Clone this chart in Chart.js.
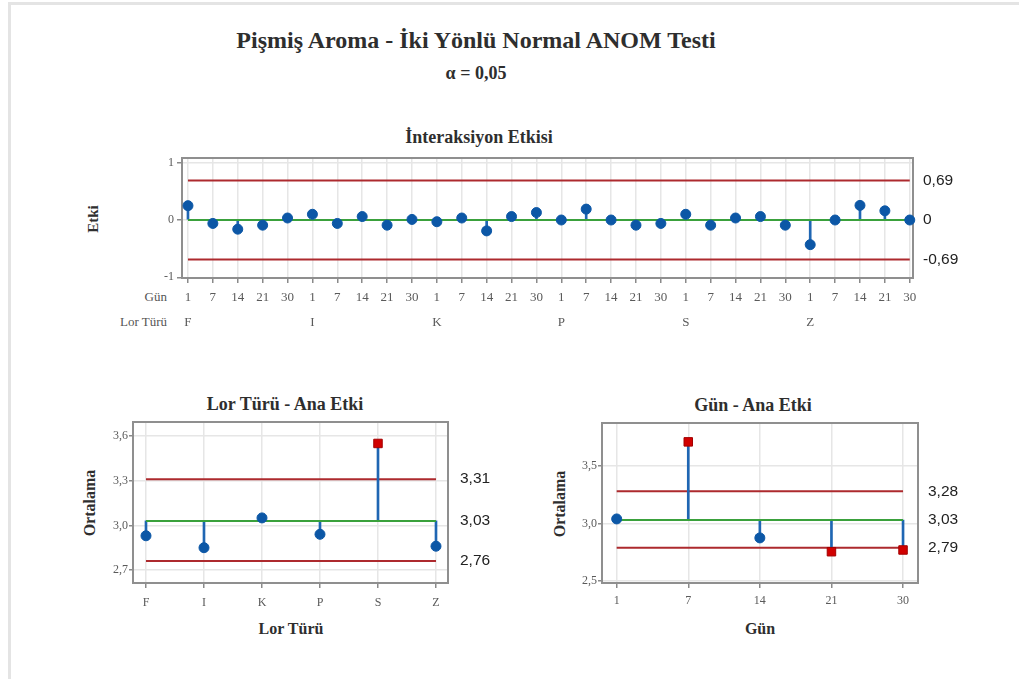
<!DOCTYPE html>
<html lang="tr">
<head>
<meta charset="utf-8">
<title>Pişmiş Aroma - İki Yönlü Normal ANOM Testi</title>
<script src="https://cdn.jsdelivr.net/npm/chart.js@4/dist/chart.umd.min.js"></script>
<style>
  html, body { margin: 0; padding: 0; background: #fff; }
  #page { position: relative; width: 1019px; height: 679px; overflow: hidden; background: #fff; }
  #frame { position: absolute; left: 8px; top: 2px; width: 1100px; height: 800px;
           border-top: 3px solid #e4e4e4; border-left: 3px solid #e4e4e4; }
  canvas { position: absolute; left: 0; top: 0; }
  .t { position: absolute; white-space: nowrap; color: #2e2e2e; font-weight: bold;
       font-family: "Liberation Serif", "Times New Roman", serif; transform: translate(-50%, -50%); }
  .rot { transform: translate(-50%, -50%) rotate(-90deg); }
  .row { position: absolute; white-space: nowrap; color: #555; font-size: 13px;
         font-family: "Liberation Serif", "Times New Roman", serif; transform: translate(-100%, -50%); }
</style>
</head>
<body>
<div id="page">
  <div id="frame"></div>

  <div class="t" style="left:476px; top:40px; font-size:24px;">Pişmiş Aroma - İki Yönlü Normal ANOM Testi</div>
  <div class="t" style="left:476px; top:73px; font-size:18px;">α = 0,05</div>

  <div class="t" style="left:479px; top:137px; font-size:18px;">İnteraksiyon Etkisi</div>
  <div class="t rot" style="left:93px; top:219px; font-size:15px;">Etki</div>
  <div class="row" style="left:167px; top:297px;">Gün</div>
  <div class="row" style="left:167px; top:322px;">Lor Türü</div>

  <div class="t" style="left:285px; top:404px; font-size:18px;">Lor Türü - Ana Etki</div>
  <div class="t rot" style="left:90px; top:503px; font-size:16px;">Ortalama</div>
  <div class="t" style="left:291px; top:629px; font-size:16px;">Lor Türü</div>

  <div class="t" style="left:753px; top:405px; font-size:18px;">Gün - Ana Etki</div>
  <div class="t rot" style="left:560px; top:504px; font-size:16px;">Ortalama</div>
  <div class="t" style="left:760px; top:629px; font-size:16px;">Gün</div>

  <canvas id="cEtki" width="1019" height="679"></canvas>
  <canvas id="cLor" width="1019" height="679"></canvas>
  <canvas id="cGun" width="1019" height="679"></canvas>
</div>

<script>
// Kategoriler
const lorTurleri = ['F', 'I', 'K', 'P', 'S', 'Z'];
const gunler = ['1', '7', '14', '21', '30'];

// Etkileşim etkileri (her lor türü için günlere göre)
const etkiF = [0.25, -0.06, -0.16, -0.09, 0.035];
const etkiI = [0.10, -0.06, 0.06, -0.09, 0.01];
const etkiK = [-0.03, 0.035, -0.19, 0.06, 0.13];
const etkiP = [0.00, 0.19, 0.00, -0.09, -0.06];
const etkiS = [0.10, -0.09, 0.035, 0.06, -0.09];
const etkiZ = [-0.43, 0.00, 0.255, 0.16, 0.00];

// Ana etki ortalamaları
const lorOrtalama = [2.93, 2.85, 3.05, 2.94, 3.55, 2.86];
const gunOrtalama = [3.04, 3.71, 2.875, 2.755, 2.77];

// Karar sınırları: [üst, merkez, alt]
const etkiSinir = [0.69, 0, -0.69];
const lorSinir = [3.31, 3.03, 2.76];
const gunSinir = [3.28, 3.03, 2.79];

// Y ekseni işaretleri
const etkiYTicks = [-1, 0, 1];
const lorYTicks = [2.7, 3.0, 3.3, 3.6];
const gunYTicks = [2.5, 3.0, 3.5];

const etkiDegerleri = [].concat(etkiF, etkiI, etkiK, etkiP, etkiS, etkiZ);

const W = 1019, H = 679;
const SERIF = '"Liberation Serif", "Times New Roman", serif';
const SANS = '"Liberation Sans", Arial, sans-serif';
const COL = {
  red: '#ad2a2e', green: '#3aa13c', stem: '#1f66b3', dot: '#0c57a6',
  out: '#d10000', outBorder: '#a30000', grid: '#e6e6e6', tick: '#8a8a8a',
  box: '#8f8f8f', text: '#5a5a5a', label: '#222'
};

const virgul = (v, d) => v.toFixed(d).replace('.', ',');
const sinirYazi = v => (v === 0 ? '0' : virgul(v, 2));

// Çerçeve ve sınır değer yazıları
const anomDecor = {
  id: 'anomDecor',
  beforeDatasetsDraw(chart, args, opts) {
    const { ctx, chartArea: a } = chart;
    ctx.save();
    ctx.strokeStyle = COL.box;
    ctx.lineWidth = 2;
    ctx.strokeRect(a.left, a.top, a.right - a.left, a.bottom - a.top);
    ctx.restore();
  },
  afterDraw(chart, args, opts) {
    const { ctx, chartArea: a } = chart;
    const y = chart.scales.y;
    ctx.save();
    ctx.font = '15.5px ' + SANS;
    ctx.fillStyle = COL.label;
    ctx.textAlign = 'left';
    ctx.textBaseline = 'middle';
    (opts.limits || []).forEach(v => ctx.fillText(sinirYazi(v), a.right + opts.gap, y.getPixelForValue(v)));
    ctx.restore();
  }
};
Chart.register(anomDecor);

function anomChart(id, o) {
  const [ust, merkez, alt] = o.limits;
  const last = o.values.length - 1;
  const disarida = o.values.map(v => v > ust || v < alt);
  const yatay = (v, color, order) => ({
    type: 'line', data: [{ x: 0, y: v }, { x: last, y: v }],
    borderColor: color, borderWidth: 2, pointRadius: 0, order
  });

  return new Chart(document.getElementById(id), {
    type: 'line',
    data: {
      datasets: [
        yatay(ust, COL.red, 5),
        yatay(alt, COL.red, 5),
        {
          type: 'bar',
          data: o.values.map((v, i) => ({ x: i, y: [merkez, v] })),
          backgroundColor: COL.stem, borderWidth: 0, barThickness: 2, order: 4
        },
        yatay(merkez, COL.green, 3),
        {
          type: 'line',
          data: o.values.map((v, i) => ({ x: i, y: v })),
          showLine: false, clip: false, order: 0,
          pointStyle: disarida.map(d => (d ? 'rect' : 'circle')),
          pointRadius: disarida.map(d => (d ? o.sq : o.r)),
          pointBackgroundColor: disarida.map(d => (d ? COL.out : COL.dot)),
          pointBorderColor: disarida.map(d => (d ? COL.outBorder : COL.dot)),
          pointBorderWidth: 1
        }
      ]
    },
    options: {
      responsive: false, maintainAspectRatio: false, animation: false, events: [],
      layout: {
        padding: {
          left: o.area.left - o.yW, top: o.area.top,
          right: W - o.area.right, bottom: H - o.area.bottom - o.xH
        }
      },
      plugins: {
        legend: { display: false }, tooltip: { enabled: false }, title: { display: false },
        anomDecor: { limits: o.limits, gap: o.gap }
      },
      scales: {
        x: {
          type: 'linear', min: o.xMin, max: o.xMax, offset: false,
          afterFit: s => { s.height = o.xH; },
          afterBuildTicks: s => { s.ticks = o.values.map((_, i) => ({ value: i })); },
          border: { display: false },
          grid: { offset: false, color: COL.grid, lineWidth: 1.5, tickLength: 5, tickColor: COL.tick, tickWidth: 1.5 },
          ticks: {
            autoSkip: false, maxRotation: 0, minRotation: 0, padding: o.xPad,
            color: COL.text, font: { family: SERIF, size: o.xFont, lineHeight: o.xLine },
            callback: v => o.xLabel(v)
          }
        },
        y: {
          type: 'linear', min: o.yMin, max: o.yMax,
          afterFit: s => { s.width = o.yW; },
          afterBuildTicks: s => { s.ticks = o.yTicks.map(v => ({ value: v })); },
          border: { display: false },
          grid: { offset: false, color: COL.grid, lineWidth: 1.5, tickLength: o.yTick, tickColor: COL.tick, tickWidth: 1.5 },
          ticks: {
            padding: o.yPad, color: COL.text, font: { family: SERIF, size: 12 },
            callback: v => o.yLabel(v)
          }
        }
      }
    }
  });
}

// Etkileşim etkisi grafiği
anomChart('cEtki', {
  values: etkiDegerleri, limits: etkiSinir, yTicks: etkiYTicks,
  area: { left: 182, top: 158, right: 913, bottom: 278 }, yW: 40, xH: 60,
  xMin: -0.24, xMax: 29.13, yMin: -1.012, yMax: 1.082,
  xPad: 2.5, xFont: 13, xLine: 25 / 13, yTick: 5, yPad: 3, r: 5, sq: 6, gap: 10,
  xLabel: i => {
    const g = Math.floor(i / gunler.length), d = i % gunler.length;
    return [gunler[d], d === 0 ? lorTurleri[g] : ''];
  },
  yLabel: v => String(v)
});

// Lor türü ana etkisi
anomChart('cLor', {
  values: lorOrtalama, limits: lorSinir, yTicks: lorYTicks,
  area: { left: 133, top: 422, right: 448, bottom: 583 }, yW: 40, xH: 40,
  xMin: -0.224, xMax: 5.207, yMin: 2.613, yMax: 3.694,
  xPad: 8, xFont: 12, xLine: 1.2, yTick: 4, yPad: 1, r: 5, sq: 6, gap: 12,
  xLabel: i => lorTurleri[i],
  yLabel: v => virgul(v, 1)
});

// Gün ana etkisi
anomChart('cGun', {
  values: gunOrtalama, limits: gunSinir, yTicks: gunYTicks,
  area: { left: 602, top: 423, right: 918, bottom: 583 }, yW: 40, xH: 40,
  xMin: -0.205, xMax: 4.209, yMin: 2.483, yMax: 3.874,
  xPad: 6, xFont: 12, xLine: 1.2, yTick: 4, yPad: 1, r: 5, sq: 6, gap: 10,
  xLabel: i => gunler[i],
  yLabel: v => virgul(v, 1)
});
</script>
</body>
</html>
